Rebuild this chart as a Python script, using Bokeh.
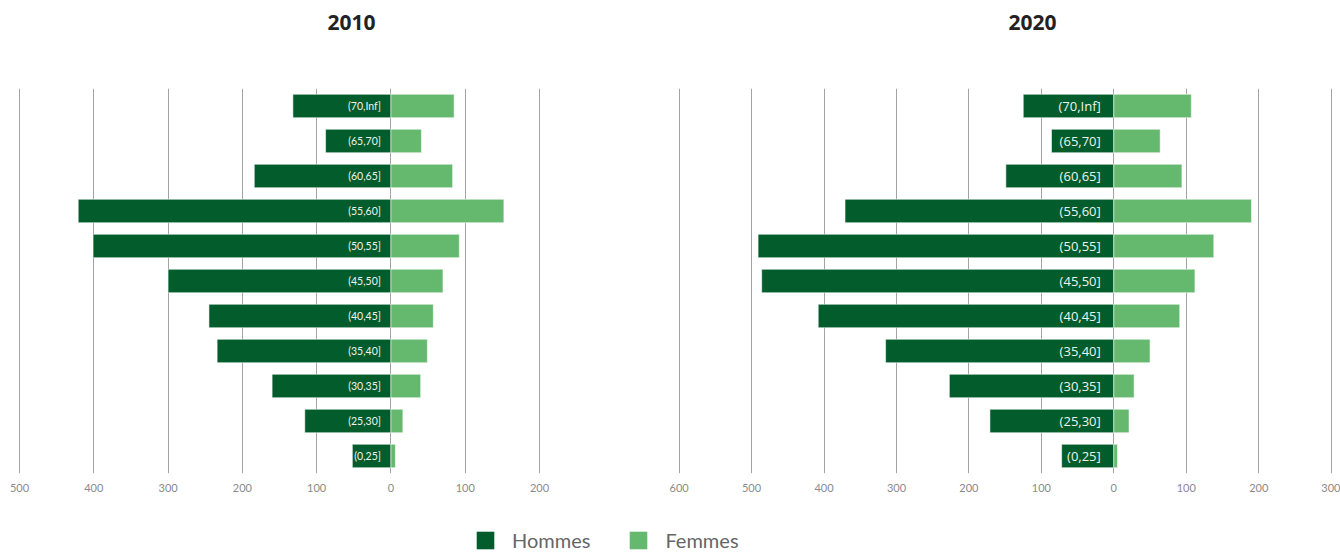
from bokeh.plotting import figure
from bokeh.models import (ColumnDataSource, FactorRange, Range1d, FixedTicker,
                          Legend, LegendItem)
from bokeh.layouts import column, row
from bokeh.core.properties import value
from bokeh.embed import file_html
from bokeh.resources import INLINE

# ---- data ----
categories = ["(0,25]", "(25,30]", "(30,35]", "(35,40]", "(40,45]", "(45,50]",
              "(50,55]", "(55,60]", "(60,65]", "(65,70]", "(70,Inf]"]
hommes_2010 = [52, 116, 160, 234, 245, 300, 401, 421, 184, 88, 132]
femmes_2010 = [6, 16, 40, 49, 57, 70, 92, 152, 83, 41, 85]
hommes_2020 = [72, 171, 227, 315, 408, 486, 491, 371, 149, 86, 125]
femmes_2020 = [5, 21, 28, 50, 91, 112, 138, 190, 94, 64, 107]
ticks_2010 = [-500, -400, -300, -200, -100, 0, 100, 200]
ticks_2020 = [-600, -500, -400, -300, -200, -100, 0, 100, 200, 300]
years = ["2010", "2020"]
series = ["Hommes", "Femmes"]

DARK = "#025c2c"
LIGHT = "#65b96e"
GRID = "#a3a3a3"


def make_source(hommes, femmes):
    return ColumnDataSource(dict(
        cat=categories,
        h=[-v for v in hommes],
        f=femmes,
        zero=[0] * len(categories),
    ))


def title_strip(year, width, offset):
    t = figure(width=width, height=62, output_backend="svg", toolbar_location=None,
               min_border=0, x_range=Range1d(0, 1), y_range=Range1d(0, 1))
    t.axis.visible = False
    t.grid.visible = False
    t.outline_line_color = None
    t.title.text = year
    t.title.align = "left"
    t.title.offset = offset
    t.title.standoff = 24
    t.title.text_font = "Open Sans"
    t.title.text_font_style = "bold"
    t.title.text_font_size = "21px"
    t.title.text_color = "#222222"
    return t


def panel(src, ticks, width, xr, lab_font, lab_size, lab_off):
    p = figure(width=width, height=438, y_range=FactorRange(*categories, range_padding=0),
               x_range=Range1d(*xr), output_backend="svg", toolbar_location=None,
               min_border_left=0, min_border_right=0, min_border_top=26,
               min_border_bottom=27, y_axis_location=None)
    p.outline_line_color = None
    p.background_fill_color = "white"
    p.border_fill_color = "white"
    p.hbar(y="cat", left="h", right="zero", height=0.67, source=src,
           fill_color=DARK, line_color="white", line_alpha=0.55, line_width=1)
    p.hbar(y="cat", left="zero", right="f", height=0.67, source=src,
           fill_color=LIGHT, line_color="white", line_alpha=0.55, line_width=1)
    p.text(x="zero", y="cat", text="cat", source=src, x_offset=lab_off,
           text_align="right", text_baseline="middle", text_color="#eef4ef",
           text_font=value(lab_font), text_font_size=lab_size)
    p.xaxis.ticker = FixedTicker(ticks=ticks)
    p.xaxis.major_label_overrides = {t: str(abs(t)) for t in ticks}
    p.xaxis.axis_line_color = None
    p.xaxis.major_tick_line_color = None
    p.xaxis.minor_tick_line_color = None
    p.xaxis.major_label_standoff = 4
    p.xaxis.major_label_text_font = "Lato"
    p.xaxis.major_label_text_font_size = "11px"
    p.xaxis.major_label_text_color = "#8a8a8a"
    p.xgrid.ticker = FixedTicker(ticks=ticks)
    p.xgrid.grid_line_color = GRID
    p.xgrid.grid_line_width = 1
    p.ygrid.grid_line_color = None
    return p


src_2010 = make_source(hommes_2010, femmes_2010)
src_2020 = make_source(hommes_2020, femmes_2020)

t1 = title_strip(years[0], 640, 327)
t2 = title_strip(years[1], 700, 368)
# left: 0 at page x 390, 74.29 px / 100
p1 = panel(src_2010, ticks_2010, 640, (-525.6, 335.9), "Lato", "10.5px", -10)
# right: 0 at page x 1113.3 (frame x 473.3), 72.45 px / 100
p2 = panel(src_2020, ticks_2020, 700, (-653.3, 312.9), "Open Sans", "13px", -13)

# legend strip (its renderers are hidden; only the legend swatches show)
p3 = figure(width=1340, height=52, x_range=Range1d(0, 1),
            y_range=FactorRange(*categories), output_backend="svg",
            toolbar_location=None, min_border=0)
p3.axis.visible = False
p3.grid.visible = False
p3.outline_line_color = None
r_h = p3.hbar(y="cat", left="h", right="zero", height=0.67, source=src_2010,
              fill_color=DARK, line_color=None, visible=False)
r_f = p3.hbar(y="cat", left="zero", right="f", height=0.67, source=src_2010,
              fill_color=LIGHT, line_color=None, visible=False)
leg = Legend(items=[LegendItem(label=series[0], renderers=[r_h]),
                    LegendItem(label=series[1], renderers=[r_f])],
             location=(474, 0), orientation="horizontal", click_policy="none",
             glyph_width=22, glyph_height=22, label_standoff=16, spacing=37,
             padding=0, margin=0, border_line_color=None, background_fill_alpha=0,
             label_text_font="Lato", label_text_font_size="20px",
             label_text_color="#666666", label_height=22)
p3.add_layout(leg, "center")

layout = column(row(t1, t2), row(p1, p2), p3)
open("out.html", "w").write(file_html(layout, INLINE))
